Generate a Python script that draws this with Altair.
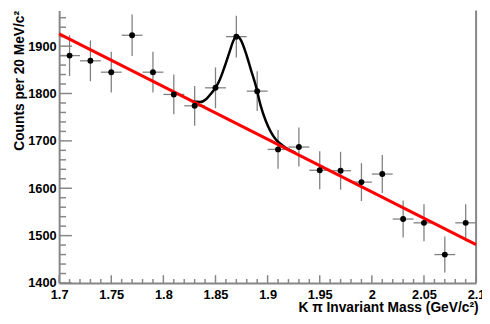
import altair as alt
import pandas as pd

# ---- data ----
mass = [1.71, 1.73, 1.75, 1.77, 1.79, 1.81, 1.83, 1.85, 1.87, 1.89,
        1.91, 1.93, 1.95, 1.97, 1.99, 2.01, 2.03, 2.05, 2.07, 2.09]
counts = [1880, 1869, 1845, 1923, 1845, 1798, 1774, 1812, 1920, 1805,
          1682, 1687, 1638, 1637, 1613, 1630, 1535, 1527, 1460, 1527]
errors = [43, 43, 43, 44, 43, 42, 42, 43, 44, 42,
          41, 41, 40, 40, 40, 40, 39, 39, 38, 39]
bin_half_width = 0.01

fit_mass = [1.8274, 1.8352, 1.8415, 1.8462, 1.8503, 1.8541, 1.8588, 1.8635,
            1.8667, 1.8705, 1.8745, 1.8792, 1.8840, 1.8887, 1.8934, 1.8981,
            1.9028, 1.9075, 1.9123, 1.9170, 1.9264]
fit_counts = [1783, 1782, 1789, 1801, 1813, 1829, 1857, 1888,
              1909, 1922, 1912, 1885, 1850, 1816, 1774, 1743,
              1720, 1704, 1694, 1686, 1675]

bg_mass = [1.70, 2.10]
bg_counts = [1926, 1481]

x_major = [1.70, 1.75, 1.80, 1.85, 1.90, 1.95, 2.00, 2.05, 2.10]
x_minor = [round(1.70 + 0.01 * i, 2) for i in range(41)]
x_minor = [v for v in x_minor if round(v * 20, 6) != round(v * 20)]
y_major = [1400, 1500, 1600, 1700, 1800, 1900]
y_minor = [v for v in range(1420, 1980, 20) if v % 100 != 0]

FONT = "Liberation Sans"
AXIS_GRAY = "#868686"
W, H = 424, 277

df = pd.DataFrame({"mass": mass, "counts": counts, "err": errors})
df["lo"] = df["counts"] - df["err"]
df["hi"] = df["counts"] + df["err"]
df["xlo"] = df["mass"] - bin_half_width
df["xhi"] = df["mass"] + bin_half_width

xs = alt.Scale(domain=[1.7, 2.1], nice=False, zero=False)
ys = alt.Scale(domain=[1400, 1975], nice=False, zero=False)

x_axis = alt.Axis(
    values=x_major, format="~g", ticks=False, grid=False,
    domainColor=AXIS_GRAY, domainWidth=2,
    labelFont=FONT, labelFontSize=13, labelFontWeight="bold", labelColor="black",
    labelPadding=6, labelFlush=False, labelOverlap=False, labelBound=False,
    title="K π Invariant Mass (GeV/c²)", titleFont=FONT, titleFontSize=14,
    titleFontWeight="bold", titleColor="black", titleAnchor="end",
    titleAlign="right", titleX=426, titleY=29, titleBaseline="alphabetic",
)
y_axis = alt.Axis(
    values=y_major, format="d", ticks=False, grid=False,
    domainColor=AXIS_GRAY, domainWidth=2,
    labelFont=FONT, labelFontSize=13, labelFontWeight="bold", labelColor="black",
    labelPadding=3, labelOverlap=False, labelBound=False, labelFlush=False,
    title="Counts per 20 MeV/c²", titleFont=FONT, titleFontSize=14,
    titleFontWeight="bold", titleColor="black", titleAngle=-90,
    titleAlign="left", titleX=-40, titleY=142, titleBaseline="middle",
)


def X(field):
    return alt.X(field, scale=xs, axis=x_axis)


def Y(field):
    return alt.Y(field, scale=ys, axis=y_axis)


points = alt.Chart(df).mark_circle(size=36, color="black", opacity=1).encode(
    x=X("mass:Q"), y=Y("counts:Q"),
)
ebar_v = alt.Chart(df).mark_rule(color="#808080", strokeWidth=1.3).encode(
    x=X("mass:Q"), y=Y("lo:Q"), y2="hi:Q",
)
ebar_h = alt.Chart(df).mark_rule(color="#808080", strokeWidth=1.3).encode(
    x=X("xlo:Q"), x2="xhi:Q", y=Y("counts:Q"),
)
fit = alt.Chart(pd.DataFrame({"m": fit_mass, "c": fit_counts})).mark_line(
    color="black", strokeWidth=2.5, interpolate="monotone"
).encode(x=X("m:Q"), y=Y("c:Q"))
bg = alt.Chart(pd.DataFrame({"m": bg_mass, "c": bg_counts})).mark_line(
    color="#ff0000", strokeWidth=3
).encode(x=X("m:Q"), y=Y("c:Q"))

tick_style = dict(color=AXIS_GRAY, strokeWidth=1.5)
xmaj = alt.Chart(pd.DataFrame({"v": x_major})).mark_rule(**tick_style).encode(
    x=X("v:Q"), y=alt.value(H), y2=alt.value(H - 8))
xmin = alt.Chart(pd.DataFrame({"v": x_minor})).mark_rule(**tick_style).encode(
    x=X("v:Q"), y=alt.value(H), y2=alt.value(H - 4))
ymaj = alt.Chart(pd.DataFrame({"v": y_major})).mark_rule(**tick_style).encode(
    y=Y("v:Q"), x=alt.value(0), x2=alt.value(13))
ymin = alt.Chart(pd.DataFrame({"v": y_minor})).mark_rule(**tick_style).encode(
    y=Y("v:Q"), x=alt.value(0), x2=alt.value(7))
right_frame = alt.Chart(pd.DataFrame({"v": [0]})).mark_rule(
    color=AXIS_GRAY, strokeWidth=2
).encode(x=alt.value(W), y=alt.value(0), y2=alt.value(H))

chart = alt.layer(
    xmaj, xmin, ymaj, ymin, right_frame, ebar_v, ebar_h, fit, bg, points
).properties(
    width=W, height=H,
    autosize=alt.AutoSizeParams(type="none"),
    padding={"left": 52, "top": 0, "right": 6, "bottom": 36},
    background="white",
).configure_view(stroke=None)

chart.save("out.html", embed_options={"renderer": "svg", "actions": False})
